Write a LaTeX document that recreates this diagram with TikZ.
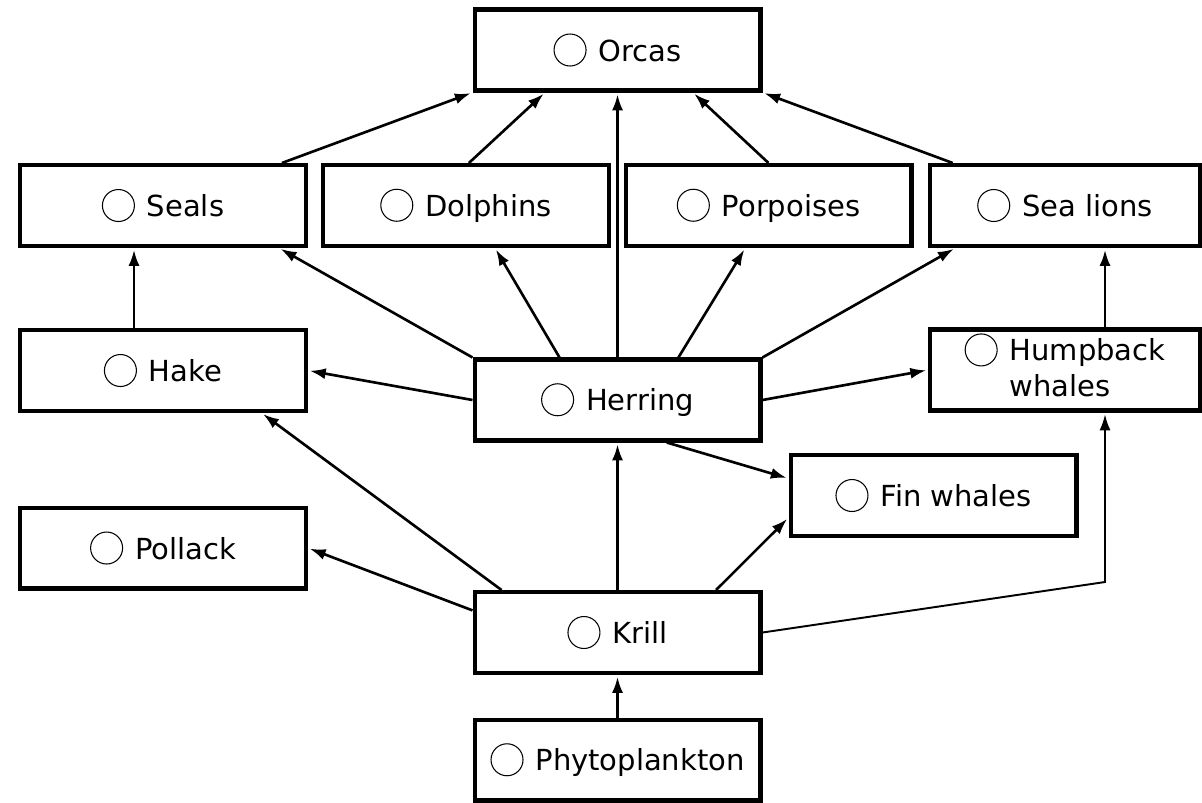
\documentclass[tikz,border=0pt]{standalone}
\usepackage{fontspec}
\setmainfont{DejaVu Sans}
\usetikzlibrary{arrows.meta,calc}
\tikzset{>={Latex[length=3.2mm,width=2.2mm]}}
\tikzstyle{species}=[rectangle,draw=black,line width=2.3pt,minimum height=1.62cm,minimum width=5.72cm,inner sep=0pt,font=\fontsize{16.5}{20}\selectfont]
\tikzstyle{speciesr}=[species,minimum width=5.4cm]
\tikzstyle{feeds}=[->,line width=1.5pt,shorten >=1pt]
\tikzstyle{feedsthin}=[->,line width=1.1pt,shorten >=1pt]
\newcommand{\spot}{\tikz[baseline=-0.22cm]\draw[line width=0.6pt] (0,0) circle (0.32cm);\hspace{0.24cm}}

\begin{document}
\begin{tikzpicture}[x=0.02cm,y=-0.02cm]
	\useasboundingbox (0,0) rectangle (1202,802);

	% top predator
	\node[species] (orcas) at (617.5,50) {\spot Orcas};

	% second row
	\node[species] (seals) at (163,205.5) {\spot Seals};
	\node[species] (dolphins) at (466,205.5) {\spot Dolphins};
	\node[species] (porpoises) at (768.5,205.5) {\spot Porpoises};
	\node[speciesr] (sealions) at (1065,205.5) {\spot Sea lions};

	% fish and whales
	\node[species] (hake) at (163,370.5) {\spot Hake};
	\node[species] (herring) at (617.5,400) {\spot Herring};
	\node[speciesr] (humpback) at (1065,370) {\spot\begin{tabular}[t]{@{}l@{}}Humpback\\whales\end{tabular}};
	\node[species] (finwhales) at (933.5,495.5) {\spot Fin whales};
	\node[species] (pollack) at (163,548) {\spot Pollack};

	% bottom of the web
	\node[species] (krill) at (617.5,632.5) {\spot Krill};
	\node[species] (phyto) at (617.5,760) {\spot Phytoplankton};

	\coordinate (bend) at (1105,582);

	% eaten by orcas
	\draw[feeds] ($(seals.north west)!0.91!(seals.north east)$) -- (orcas.south west);
	\draw[feeds] ($(dolphins.north west)!0.51!(dolphins.north east)$) -- ($(orcas.south west)!0.25!(orcas.south east)$);
	\draw[feeds] (herring.north) -- (orcas.south);
	\draw[feeds] ($(porpoises.north west)!0.5!(porpoises.north east)$) -- ($(orcas.south west)!0.76!(orcas.south east)$);
	\draw[feeds] ($(sealions.north west)!0.09!(sealions.north east)$) -- (orcas.south east);

	% herring
	\draw[feeds] ($(hake.north west)!0.4!(hake.north east)$) -- ($(seals.south west)!0.4!(seals.south east)$);
	\draw[feeds] (herring.north west) -- ($(seals.south west)!0.9!(seals.south east)$);
	\draw[feeds] ($(herring.north west)!0.3!(herring.north east)$) -- ($(dolphins.south west)!0.6!(dolphins.south east)$);
	\draw[feeds] ($(herring.north west)!0.71!(herring.north east)$) -- ($(porpoises.south west)!0.42!(porpoises.south east)$);
	\draw[feeds] (herring.north east) -- ($(sealions.south west)!0.1!(sealions.south east)$);
	\draw[feeds] (herring.west) -- (hake.east);
	\draw[feeds] (herring.east) -- (humpback.west);
	\draw[feeds] ($(herring.south west)!0.67!(herring.south east)$) -- ($(finwhales.north west)!0.3!(finwhales.south west)$);

	% krill
	\draw[feeds] (krill.north) -- (herring.south);
	\draw[feeds] ($(krill.north west)!0.1!(krill.north east)$) -- ($(hake.south west)!0.84!(hake.south east)$);
	\draw[feeds] ($(krill.north west)!0.24!(krill.south west)$) -- (pollack.east);
	\draw[feeds] ($(krill.north west)!0.84!(krill.north east)$) -- ($(finwhales.north west)!0.76!(finwhales.south west)$);
	\draw[feedsthin] (krill.east) -- (bend) -- (humpback.south -| bend);
	\draw[feeds] (humpback.north -| bend) -- (sealions.south -| bend);
	\draw[feeds] (phyto.north) -- (krill.south);
\end{tikzpicture}
\end{document}
